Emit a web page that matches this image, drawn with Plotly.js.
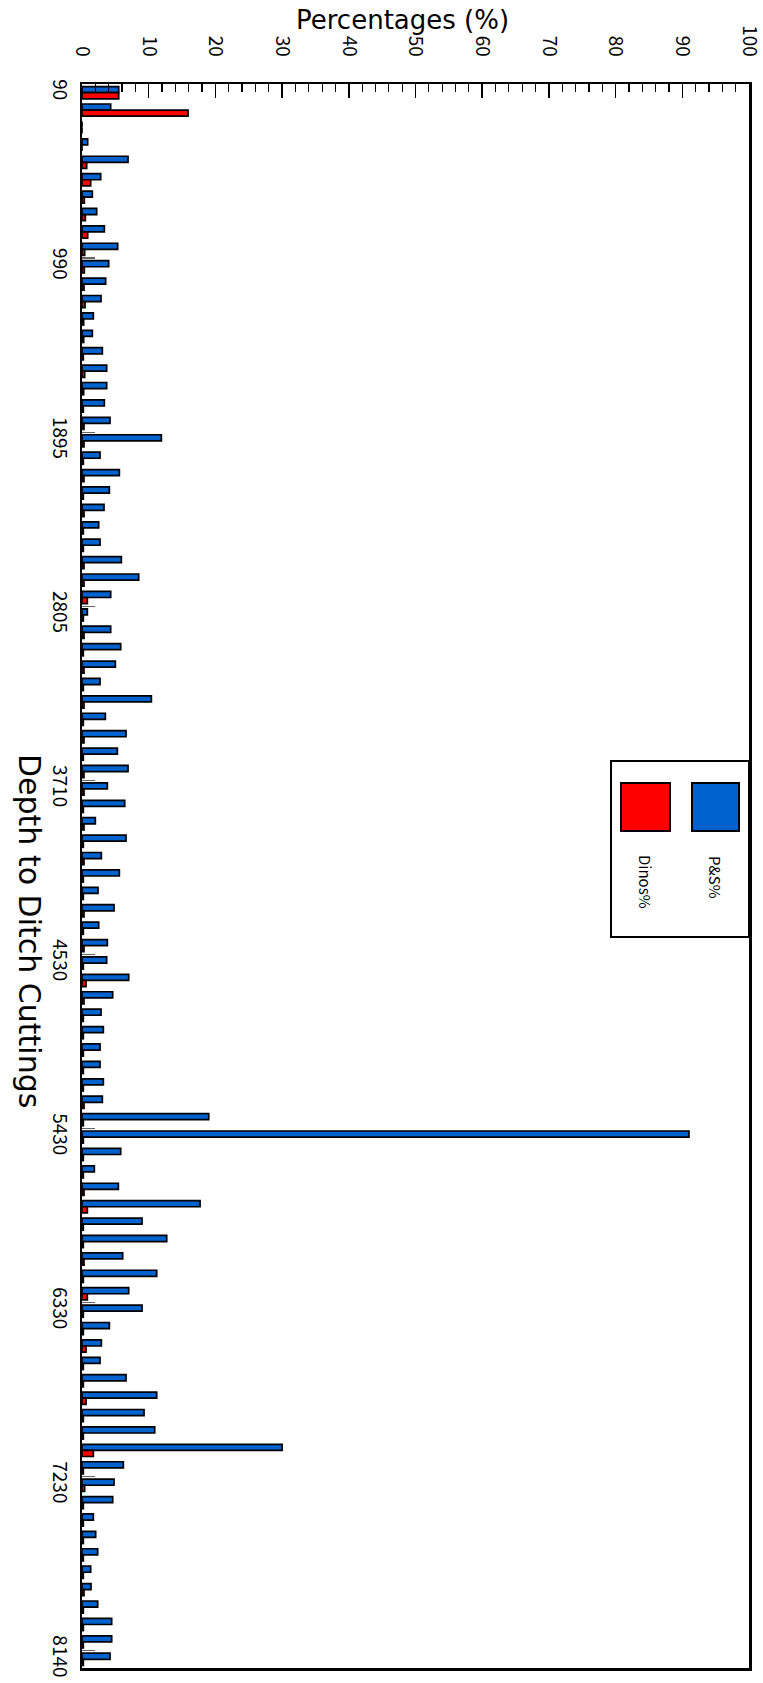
<!DOCTYPE html>
<html><head><meta charset="utf-8">
<script src="https://cdn.plot.ly/plotly-3.0.1.min.js"></script>
<style>html,body{margin:0;padding:0;background:#fff}#chart{width:763px;height:1683px}</style>
</head><body><div id="chart"></div>
<script>
// Depth tick labels (every 10th sample) and their sample positions
const depthLabels = ['90','990','1895','2805','3710','4530','5430','6330','7230','8140'];
const labelIndex = [0,10,20,30,40,50,60,70,80,90];
// Percentage axis tick labels
const pctTicks = [0,10,20,30,40,50,60,70,80,90,100];
// Sample order (91 ditch-cutting samples, top = shallowest)
const sampleIndex = [0,1,2,3,4,5,6,7,8,9,10,11,12,13,14,15,16,17,18,19,20,21,22,23,24,25,26,27,28,29,30,31,32,33,34,35,36,37,38,39,40,41,42,43,44,45,46,47,48,49,50,51,52,53,54,55,56,57,58,59,60,61,62,63,64,65,66,67,68,69,70,71,72,73,74,75,76,77,78,79,80,81,82,83,84,85,86,87,88,89,90];
// P&S %
const psValues = [5.5,4.3,0,0.85,6.9,2.8,1.55,2.2,3.35,5.35,
  4.0,3.55,2.85,1.7,1.55,3.05,3.7,3.7,3.35,4.2,
  11.9,2.7,5.6,4.1,3.3,2.5,2.7,5.9,8.5,4.3,
  0.8,4.3,5.8,5.0,2.7,10.4,3.5,6.6,5.3,6.9,
  3.8,6.4,2.0,6.6,2.9,5.6,2.4,4.8,2.5,3.8,
  3.7,7.0,4.6,2.85,3.2,2.7,2.7,3.2,3.05,19.0,
  91.0,5.8,1.85,5.45,17.7,9.0,12.7,6.1,11.2,7.0,
  9.0,4.1,2.9,2.7,6.6,11.2,9.3,10.9,30.0,6.2,
  4.8,4.6,1.7,2.05,2.35,1.3,1.35,2.35,4.45,4.45,
  4.2];
// Dinos %
const dinoValues = [5.5,15.9,0,0,0.7,1.3,0.35,0.5,0.85,0.4,
  0.35,0.3,0.45,0.25,0.25,0.2,0.4,0.25,0.2,0.3,
  0.3,0.2,0.3,0.2,0.3,0.2,0.2,0.3,0.3,0.8,
  0.2,0.3,0.2,0.3,0.2,0.3,0.2,0.3,0.2,0.3,
  0.3,0.2,0.3,0.2,0.3,0.2,0.2,0.3,0.2,0.3,
  0.2,0.6,0.3,0.2,0.2,0.2,0.2,0.2,0.3,0.2,
  0.2,0.2,0.2,0.3,0.8,0.2,0.2,0.3,0.2,0.8,
  0.2,0.2,0.6,0.2,0.2,0.6,0.2,0.2,1.7,0.2,
  0.4,0.2,0.2,0.2,0.2,0.2,0.3,0.2,0.2,0.2,
  0.2];
const seriesNames = ['P&S%','Dinos%'];
const seriesColors = ['#0062CC','#FF0000'];

const FONT = '"Noto Sans CJK JP", "Liberation Sans", sans-serif';
const TITLEFONT = '"DejaVu Sans", sans-serif';
const L = 82, R = 749, T = 84, B = 1668;
const px = v => (v - L) / (R - L);
const py = v => 1 - (v - T) / (B - T);

const traces = [
  {type:'bar', orientation:'h', name:seriesNames[0], x:psValues, y:sampleIndex,
   marker:{color:seriesColors[0], line:{color:'#000', width:1.7}}, hoverinfo:'x+name'},
  {type:'bar', orientation:'h', name:seriesNames[1], x:dinoValues, y:sampleIndex,
   marker:{color:seriesColors[1], line:{color:'#000', width:1.7}}, hoverinfo:'x+name'}
];

const layout = {
  width:763, height:1683,
  margin:{l:L, r:763-R, t:T, b:1683-B, pad:0},
  paper_bgcolor:'#fff', plot_bgcolor:'#fff',
  showlegend:false,
  barmode:'group', bargap:0.3, bargroupgap:0,
  font:{family:FONT, color:'#000'},
  xaxis:{side:'top', range:[0,100], tickmode:'array', tickvals:pctTicks, ticktext:pctTicks.map(String),
    ticks:'inside', ticklen:14, tickwidth:1.5, tickcolor:'#000', ticklabeloverflow:'allow',
    minor:{tickmode:'linear', tick0:0, dtick:2, ticks:'inside', ticklen:8, tickwidth:1.2, tickcolor:'#000', showgrid:false},
    tickangle:90, ticklabelstandoff:18, tickfont:{size:19, family:FONT},
    showline:true, linecolor:'#000', linewidth:2.5, mirror:true,
    showgrid:false, zeroline:false},
  yaxis:{range:[90.5,-0.5], tickmode:'array', tickvals:labelIndex, ticktext:depthLabels,
    ticks:'', tickangle:90, ticklabelstandoff:4, tickfont:{size:19, family:FONT}, ticklabeloverflow:'allow',
    minor:{tickmode:'array', tickvals:labelIndex.slice(1).map(i => i - 0.5),
      ticks:'inside', ticklen:13, tickwidth:1.2, tickcolor:'#666', showgrid:false},
    showline:true, linecolor:'#000', linewidth:2.5, mirror:true,
    showgrid:false, zeroline:false},
  annotations:[
    {text:'Percentages (%)', xref:'paper', yref:'paper', x:px(402), y:py(20),
     xanchor:'center', yanchor:'middle', showarrow:false, font:{size:26, family:TITLEFONT}},
    {text:'Depth to Ditch Cuttings', xref:'paper', yref:'paper', x:px(30), y:py(931),
     xanchor:'center', yanchor:'middle', textangle:90, showarrow:false, font:{size:30, family:TITLEFONT}},
    {text:seriesNames[1], xref:'paper', yref:'paper', x:px(646), y:py(882),
     xanchor:'center', yanchor:'middle', textangle:90, showarrow:false, font:{size:15, family:FONT}},
    {text:seriesNames[0], xref:'paper', yref:'paper', x:px(716), y:py(877),
     xanchor:'center', yanchor:'middle', textangle:90, showarrow:false, font:{size:15, family:FONT}}
  ],
  shapes:[
    {type:'rect', xref:'paper', yref:'paper', x0:px(611), x1:px(749), y0:py(937), y1:py(761),
     line:{color:'#000', width:2}, fillcolor:'#fff', layer:'above'},
    {type:'rect', xref:'paper', yref:'paper', x0:px(621), x1:px(670), y0:py(831), y1:py(783),
     line:{color:'#000', width:2}, fillcolor:seriesColors[1], layer:'above'},
    {type:'rect', xref:'paper', yref:'paper', x0:px(692), x1:px(739), y0:py(831), y1:py(783),
     line:{color:'#000', width:2}, fillcolor:seriesColors[0], layer:'above'}
  ]
};

Plotly.newPlot('chart', traces, layout, {displayModeBar:false, staticPlot:true});
</script>
</body></html>
